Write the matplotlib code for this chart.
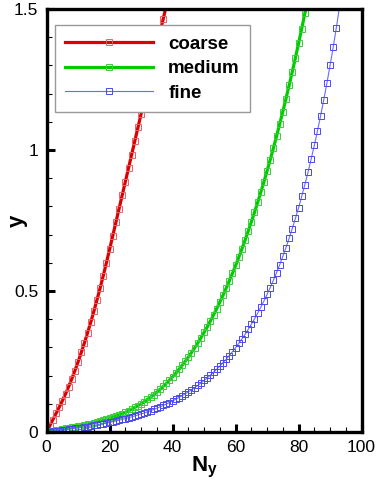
import numpy as np
import matplotlib
matplotlib.use("Agg")
import matplotlib.pyplot as plt
from matplotlib.ticker import MultipleLocator, FuncFormatter

plt.rcParams["font.family"] = ["Liberation Sans", "DejaVu Sans"]
plt.rcParams["mathtext.fontset"] = "custom"
plt.rcParams["mathtext.rm"] = "Liberation Sans"
plt.rcParams["mathtext.bf"] = "Liberation Sans:bold"

# grid-point height y versus point index N_y for three grids
y_coarse = [0.0, 0.022, 0.044, 0.066, 0.088, 0.111, 0.135, 0.161, 0.189, 0.218,
            0.249, 0.282, 0.316, 0.352, 0.389, 0.428, 0.469, 0.511, 0.555, 0.601,
            0.648, 0.696, 0.744, 0.792, 0.840, 0.888, 0.936, 0.984, 1.032, 1.080,
            1.128, 1.176, 1.224, 1.272, 1.320, 1.368, 1.416, 1.464, 1.512]

y_medium = [0.0, 0.0023, 0.0045, 0.0066, 0.0087, 0.0107, 0.0126, 0.0146, 0.0166, 0.0186,
            0.0207, 0.0228, 0.0250, 0.0273, 0.0298, 0.0324, 0.0351, 0.0380, 0.0411, 0.0445,
            0.0480, 0.0518, 0.0559, 0.0603, 0.0649, 0.0699, 0.0752, 0.0809, 0.0870, 0.0935,
            0.1003, 0.1077, 0.1154, 0.1236, 0.1324, 0.1416, 0.1514, 0.1617, 0.1725, 0.1840,
            0.1960, 0.2086, 0.2219, 0.2359, 0.2505, 0.2658, 0.2818, 0.2985, 0.3160, 0.3343,
            0.3533, 0.3731, 0.3938, 0.4153, 0.4376, 0.4609, 0.4850, 0.5100, 0.5359, 0.5628,
            0.5906, 0.6195, 0.6493, 0.6801, 0.7121, 0.7450, 0.7790, 0.8141, 0.8503, 0.8876,
            0.9263, 0.9659, 1.0068, 1.0489, 1.0922, 1.1367, 1.1825, 1.2295, 1.2778, 1.3274,
            1.3786, 1.4310, 1.4849, 1.5398]

y_fine = [0.0, 0.0012, 0.0025, 0.0038, 0.0051, 0.0065, 0.0079, 0.0094, 0.0109, 0.0125,
          0.0142, 0.0158, 0.0176, 0.0194, 0.0213, 0.0233, 0.0253, 0.0274, 0.0296, 0.0319,
          0.0342, 0.0367, 0.0393, 0.0419, 0.0447, 0.0476, 0.0506, 0.0538, 0.0571, 0.0605,
          0.0641, 0.0678, 0.0717, 0.0758, 0.0801, 0.0845, 0.0892, 0.0941, 0.0992, 0.1045,
          0.1101, 0.1159, 0.1220, 0.1285, 0.1352, 0.1422, 0.1495, 0.1573, 0.1653, 0.1738,
          0.1827, 0.1920, 0.2017, 0.2120, 0.2227, 0.2340, 0.2458, 0.2582, 0.2712, 0.2848,
          0.2991, 0.3141, 0.3299, 0.3464, 0.3638, 0.3820, 0.4012, 0.4213, 0.4424, 0.4646,
          0.4878, 0.5123, 0.5379, 0.5649, 0.5932, 0.6230, 0.6542, 0.6870, 0.7215, 0.7577,
          0.7957, 0.8357, 0.8777, 0.9218, 0.9682, 1.0169, 1.0681, 1.1219, 1.1784, 1.2377,
          1.3001, 1.3657, 1.4346, 1.5071]

series = [
    ("coarse", y_coarse, "#dd0000", "#e8606a", 2.3),
    ("medium", y_medium, "#00cc00", "#3ccc3c", 2.3),
    ("fine", y_fine, "#6a6aff", "#4a4aee", 0.8),
]

fig = plt.figure(figsize=(3.79, 4.83), dpi=100)
ax = fig.add_axes([0.123, 0.1056, 0.831, 0.8756])

for name, yv, lc, mc, lw in series:
    n = np.arange(len(yv))
    ax.plot(n, yv, color=lc, lw=lw, marker="s", ms=5.0, mfc="none",
            mec=mc, mew=0.7, label=name)

ax.set_xlim(0, 100)
ax.set_ylim(0, 1.5)

ax.xaxis.set_major_locator(MultipleLocator(20))
ax.xaxis.set_minor_locator(MultipleLocator(5))
ax.yaxis.set_major_locator(MultipleLocator(0.5))
ax.yaxis.set_minor_locator(MultipleLocator(0.1))
ax.yaxis.set_major_formatter(FuncFormatter(lambda v, p: "%g" % v))

ax.tick_params(which="both", direction="in", top=False, right=False,
               labelsize=12.5, colors="black")
ax.tick_params(which="major", length=6, width=2.2, pad=6)
ax.tick_params(which="minor", length=3.5, width=0.8)
for sp in ax.spines.values():
    sp.set_linewidth(2.4)

ax.set_xlabel(r"$\mathbf{N}_\mathbf{y}$", fontsize=16, labelpad=0)
ax.set_ylabel("y", fontsize=16, fontweight="bold")
ax.yaxis.set_label_coords(-0.06, 0.5)

leg = ax.legend(loc="upper left", bbox_to_anchor=(0.026, 0.962), borderaxespad=0,
                fancybox=False, framealpha=1, edgecolor="#999999",
                prop={"size": 13.5, "weight": "bold"}, handlelength=4.7,
                handletextpad=0.8, labelspacing=0.4, borderpad=0.55, numpoints=1)
leg.get_frame().set_linewidth(1.0)

fig.savefig("out.png", dpi=100)
